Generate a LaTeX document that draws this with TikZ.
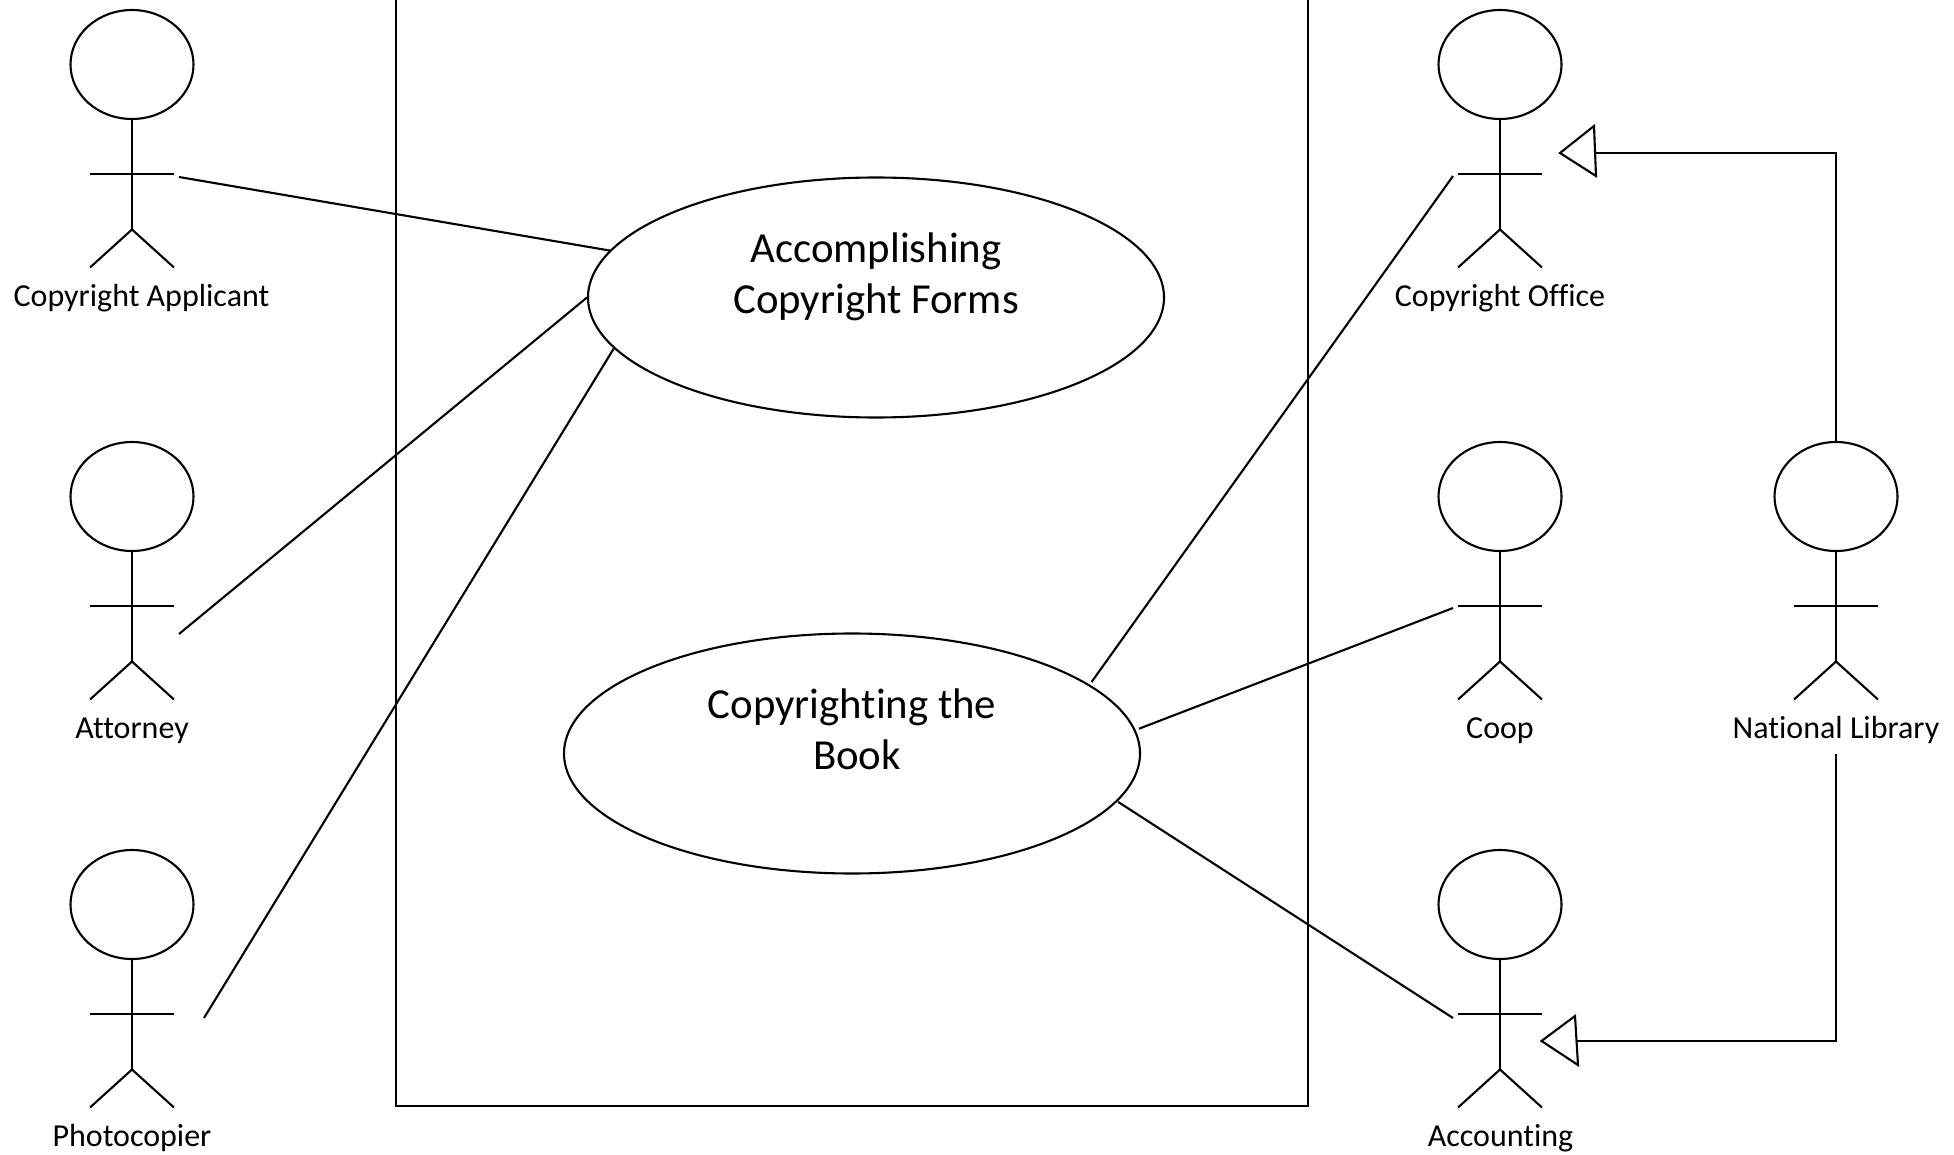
\documentclass[tikz,border=0pt]{standalone}
\usepackage{fontspec}
\setmainfont{Carlito}[Ligatures=CommonOff]
\usetikzlibrary{shapes.geometric}
\tikzset{
  ink/.style={line width=2.1pt,draw=black},
  ucase/.style={ink,shape=ellipse,inner sep=0pt,minimum width=576pt,minimum height=240pt},
  head/.style={ink,shape=ellipse,inner sep=0pt,minimum width=123pt,minimum height=109pt},
  actorlabel/.style={font=\fontsize{32}{38}\selectfont,inner sep=0pt,anchor=base,text depth=15pt},
  casetext/.style={font=\fontsize{42.8}{51}\selectfont,inner sep=0pt,align=center},
  actor/.pic={
    \node[head] (-head) at (0,0) {};
    \draw[ink] (-head.south) -- (0,165) coordinate (-hip);
    \draw[ink] (-42,109.5) -- (42,109.5);
    \draw[ink] (-42,203) -- (-hip) -- (42,203);
  }
}
\begin{document}
\begin{tikzpicture}[x=1pt,y=-1pt]
\useasboundingbox (0,0) rectangle (1954,1155);
\draw[ink] (396,-2) -- (396,1106) -- (1308,1106) -- (1308,-2);

\pic (a) at (132,64.5) {actor};
\pic (b) at (132,496.5) {actor};
\pic (c) at (132,904.5) {actor};
\pic (d) at (1500,64.5) {actor};
\pic (e) at (1500,496.5) {actor};
\pic (f) at (1500,904.5) {actor};
\pic (g) at (1836,496.5) {actor};

\node[actorlabel] (la) at (141.5,307) {Copyright Applicant};
\node[actorlabel] (lb) at (132,738.5) {Attorney};
\node[actorlabel] (lc) at (132,1146.5) {Photocopier};
\node[actorlabel] (ld) at (1500,307) {Copyright Office};
\node[actorlabel] (le) at (1500,738.5) {Coop};
\node[actorlabel] (lf) at (1500.5,1146.5) {Accounting};
\node[actorlabel] (lg) at (1836,738.5) {National Library};

\node[ucase] (u1) at (876,297.5) {};
\node[ucase] (u2) at (852,753.5) {};
\node[casetext] (t1) at (876,276.5) {Accomplishing\\Copyright Forms};
\node[casetext] (t2) at (852,729) {Copyrighting the\\\hspace*{10pt}Book};

\coordinate (pa) at (179,177);
\coordinate (pb) at (179,634);
\coordinate (pc) at (204,1018);
\coordinate (pd) at (1453,176);
\coordinate (pe) at (1453,608);
\coordinate (pf) at (1453,1018);
\draw[ink] (pa) -- (u1.170.5);
\draw[ink] (pb) -- (u1.180);
\draw[ink] (pc) -- (u1.191);
\draw[ink] (pd) -- ([shift={(1,-3)}]u2.16.7);
\draw[ink] (pe) -- ([xshift=4pt]u2.5.5);
\draw[ink] (pf) -- ([shift={(4,-2.5)}]u2.-11.1);

\coordinate (tip1) at (1560,153);
\coordinate (base1) at (1595,153);
\coordinate (tip2) at (1541.5,1041);
\coordinate (base2) at (1576.5,1041);
\draw[ink,line join=miter] (tip1) -- (1594,126) -- (1596,176) -- cycle;
\draw[ink,line join=miter] (tip2) -- (1575,1016) -- (1578,1065) -- cycle;
\draw[ink] (g-head.north) |- (base1);
\draw[ink] (lg.south) |- (base2);
\end{tikzpicture}
\end{document}
